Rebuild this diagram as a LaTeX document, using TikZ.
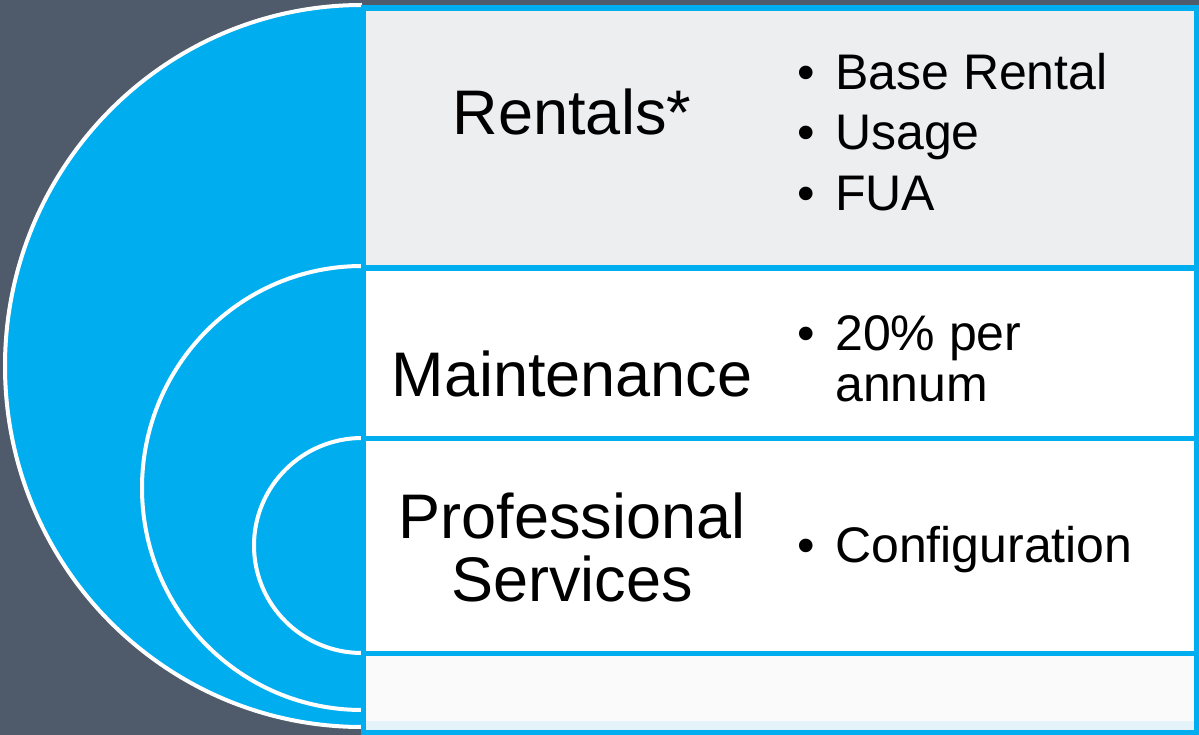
\documentclass[tikz,border=0pt]{standalone}
\usepackage{fontspec}
\setmainfont{Liberation Sans}
\definecolor{slate}{HTML}{4F5A6A}
\definecolor{sky}{HTML}{00ADEF}
\definecolor{panelgray}{HTML}{EDEEF0}
\definecolor{panelwhite}{HTML}{FFFFFF}
\definecolor{paleblue}{HTML}{E4F3FA}
\begin{document}
\begin{tikzpicture}[x=1pt,y=-1pt,
  ring/.style={fill=sky,draw=white,line width=4pt},
  panel/.style={draw=sky,line width=5.5pt},
  head/.style={inner sep=0pt,anchor=base,font=\fontsize{63}{70}\selectfont},
  item/.style={inner sep=0pt,anchor=base west,font=\fontsize{50}{58}\selectfont},
  dot/.style={inner sep=0pt,anchor=base west,font=\fontsize{50}{58}\selectfont}]
  % background
  \fill[slate] (0,0) rectangle (1199,735);
  \useasboundingbox (0,0) rectangle (1199,735);

  % nested half rings (y axis points down, so 270 -> 90 sweeps through the left)
  \fill[sky] (362,5) arc[start angle=270,end angle=90,x radius=357,y radius=361] -- cycle;
  \draw[white,line width=4pt] (362,5) arc[start angle=270,end angle=90,x radius=357,y radius=361];
  \draw[ring] (362,266) arc[start angle=270,end angle=90,x radius=220,y radius=222];
  \draw[ring] (362,438) arc[start angle=270,end angle=90,x radius=108,y radius=107.5];

  % panels
  \draw[panel,fill=panelgray] (363.5,8) rectangle (1197,268);
  \draw[panel,fill=panelwhite] (363.5,268) rectangle (1197,438.5);
  \draw[panel,fill=panelwhite] (363.5,438.5) rectangle (1197,653.5);
  \fill[panelwhite!98!black] (366,656) rectangle (1194.5,731);
  \fill[paleblue] (366,721) rectangle (1194.5,731);
  \draw[panel] (363.5,653.5) rectangle (1197,733);

  % headings
  \node[head] (rentals) at (572,135) {Rentals*};
  \node[head] (maint) at (572,396) {Maintenance};
  \node[head] (prof) at (572,538) {Professional};
  \node[head] (serv) at (572,601) {Services};

  % bullet items
  \node[dot] (b1) at (797,90) {•};
  \node[item] (base) at (835,90) {Base Rental};
  \node[dot] (b2) at (797,150) {•};
  \node[item] (usage) at (835,150) {Usage};
  \node[dot] (b3) at (797,211) {•};
  \node[item] (fua) at (835,211) {FUA};
  \node[dot] (b4) at (797,350) {•};
  \node[item] (pct) at (835,350) {20\% per};
  \node[item] (annum) at (835,401) {annum};
  \node[dot] (b5) at (797,562) {•};
  \node[item] (config) at (835,562) {Configuration};
\end{tikzpicture}
\end{document}
